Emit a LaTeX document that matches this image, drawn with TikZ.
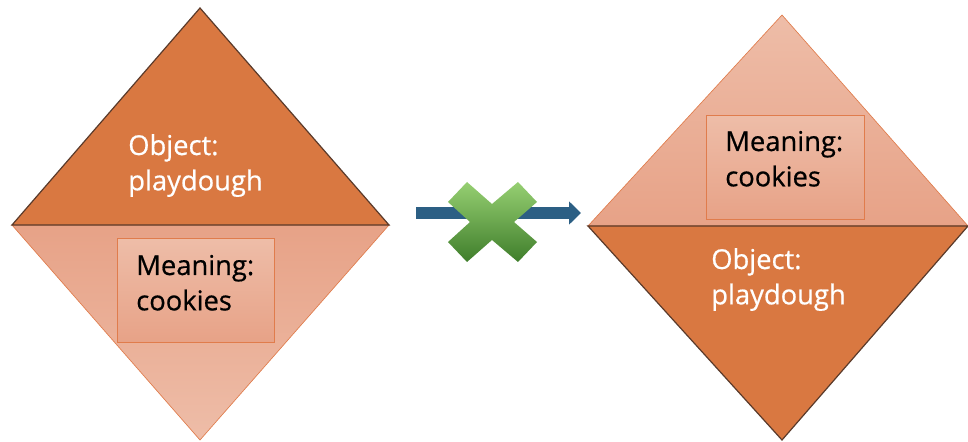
\documentclass[tikz,border=0pt]{standalone}
\usepackage{fontspec}
\setmainfont{Open Sans}
\newfontfamily\labelfont{Open Sans}[FakeBold=0.6]
\usetikzlibrary{arrows.meta}
\definecolor{darkor}{HTML}{D97841}
\definecolor{darkline}{HTML}{5A3A2A}
\definecolor{lightA}{HTML}{E7A287}
\definecolor{lightB}{HTML}{EEBDA8}
\definecolor{boxline}{HTML}{E07C4C}
\definecolor{arrowblue}{HTML}{2C5F84}
\definecolor{greenA}{HTML}{96CF72}
\definecolor{greenB}{HTML}{3F7E2B}
\tikzset{
  darkhalf/.style={fill=darkor, draw=darkline, line width=0.9pt, line join=miter},
  lighthalf/.style={draw=boxline, line width=0.5pt},
  meaningbox/.style={draw=boxline, line width=0.6pt, top color=lightB, bottom color=lightA},
  objlabel/.style={anchor=base west, inner sep=0pt, text=white, font=\labelfont\fontsize{20.5}{26.5}\selectfont},
  meanlabel/.style={anchor=base west, inner sep=0pt, text=black, font=\labelfont\fontsize{20.5}{26.5}\selectfont},
  blocked/.style={arrowblue, line width=9pt, -{Triangle[width=17pt,length=9pt]}},
  crossmark/.style={top color=greenA, bottom color=greenB}
}
\begin{document}
\begin{tikzpicture}[x=0.75pt,y=-0.75pt]
\useasboundingbox (0,0) rectangle (968,442);

% left diamond: light lower half, dark upper half
\path[lighthalf, top color=lightA, bottom color=lightB]
  (12,225) -- (389,225) -- (200,440) -- cycle;
\path[darkhalf] (12,225) -- (200,8) -- (389,225) -- cycle;
\node[meaningbox, minimum width=157*0.75pt, minimum height=104*0.75pt, anchor=north west, inner sep=0pt] (lbox) at (117,238) {};
\node[objlabel] (lobj) at (128,155) {\begin{tabular}[t]{@{}l@{}}Object:\\playdough\end{tabular}};
\node[meanlabel] (lmean) at (136,275) {\begin{tabular}[t]{@{}l@{}}Meaning:\\cookies\end{tabular}};

% right diamond: light upper half, dark lower half
\path[lighthalf, top color=lightB, bottom color=lightA]
  (588,226) -- (782,15) -- (968,226) -- cycle;
\path[darkhalf] (588,226) -- (968,226) -- (782,440) -- cycle;
\node[meaningbox, minimum width=158*0.75pt, minimum height=104*0.75pt, anchor=north west, inner sep=0pt] (rbox) at (706,115) {};
\node[meanlabel] (rmean) at (725,151) {\begin{tabular}[t]{@{}l@{}}Meaning:\\cookies\end{tabular}};
\node[objlabel] (robj) at (711,269) {\begin{tabular}[t]{@{}l@{}}Object:\\playdough\end{tabular}};

% crossed-out arrow between the two
\coordinate (arrS) at (416,213);
\coordinate (arrE) at (581,213);
\draw[blocked] (arrS) -- (arrE);
\path[crossmark]
  (448,202) -- (467,182) -- (492,204) -- (518,182) -- (537,202) -- (514,222)
  -- (537,242) -- (518,262) -- (492,240) -- (467,262) -- (448,242) -- (470,222) -- cycle;
\end{tikzpicture}
\end{document}
